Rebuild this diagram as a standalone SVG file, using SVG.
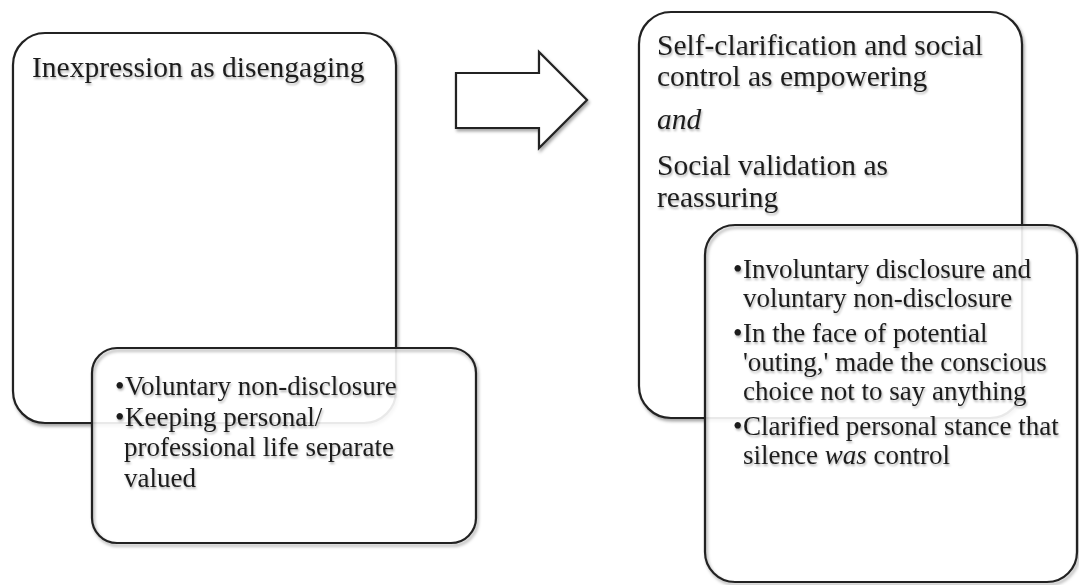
<svg xmlns="http://www.w3.org/2000/svg" width="1079" height="585" viewBox="0 0 1079 585">
<defs>
<filter id="sh" x="-10%" y="-10%" width="120%" height="120%">
<feDropShadow dx="1.5" dy="2.5" stdDeviation="1.6" flood-color="#000" flood-opacity="0.35"/>
</filter>
<filter id="tsh" x="-5%" y="-20%" width="110%" height="150%">
<feDropShadow dx="1" dy="2" stdDeviation="1.3" flood-color="#000" flood-opacity="0.3"/>
</filter>
</defs>
<style>
.big{fill:#fff;stroke:#222;stroke-width:2.2}
.fillonly{fill:#fff;fill-opacity:0.9;stroke:none}
.edge{fill:none;stroke:#222;stroke-width:2.2}
.title{font-family:"Liberation Serif","Times New Roman",serif;font-size:29.5px;fill:#1e1e1e}
.body{font-family:"Liberation Serif","Times New Roman",serif;font-size:27px;fill:#1e1e1e}
.it{font-style:italic}
</style>
<g id="left-main">
<rect class="big" x="13" y="33" width="383" height="390" rx="32" ry="32" filter="url(#sh)"/>
<text class="title" x="32" y="77" filter="url(#tsh)">Inexpression as disengaging</text>
</g>
<g id="left-detail">
<rect class="fillonly" x="92" y="348" width="384" height="195" rx="25" ry="25"/>
<rect class="edge" x="92" y="348" width="384" height="195" rx="25" ry="25" filter="url(#sh)"/>
<g class="body" filter="url(#tsh)">
<text x="115" y="395">•</text>
<text x="125" y="395">Voluntary non-disclosure</text>
<text x="115" y="426">•</text>
<text x="125" y="426">Keeping personal/</text>
<text x="124" y="456">professional life separate</text>
<text x="124" y="487">valued</text>
</g>
</g>
<g id="connectors">
<path d="M456 73 L539 73 L539 52 L587 100 L539 148 L539 128 L456 128 Z" fill="#fff" stroke="#222" stroke-width="2.2" stroke-linejoin="miter" filter="url(#sh)"/>
</g>
<g id="right-main">
<rect class="big" x="639" y="12" width="383" height="406" rx="32" ry="32" filter="url(#sh)"/>
<g class="title" filter="url(#tsh)">
<text x="657" y="55">Self-clarification and social</text>
<text x="657" y="86">control as empowering</text>
<text x="657" y="129" class="it">and</text>
<text x="657" y="175">Social validation as</text>
<text x="657" y="207">reassuring</text>
</g>
</g>
<g id="right-detail">
<rect class="fillonly" x="705" y="225" width="372" height="357" rx="30" ry="30"/>
<rect class="edge" x="705" y="225" width="372" height="357" rx="30" ry="30" filter="url(#sh)"/>
<g class="body" filter="url(#tsh)">
<text x="733" y="278">•</text>
<text x="743" y="278">Involuntary disclosure and</text>
<text x="743" y="307">voluntary non-disclosure</text>
<text x="733" y="342">•</text>
<text x="743" y="342">In the face of potential</text>
<text x="743" y="371">'outing,' made the conscious</text>
<text x="743" y="400">choice not to say anything</text>
<text x="733" y="435">•</text>
<text x="743" y="435">Clarified personal stance that</text>
<text x="743" y="464">silence <tspan class="it">was</tspan> control</text>
</g>
</g>
</svg>
